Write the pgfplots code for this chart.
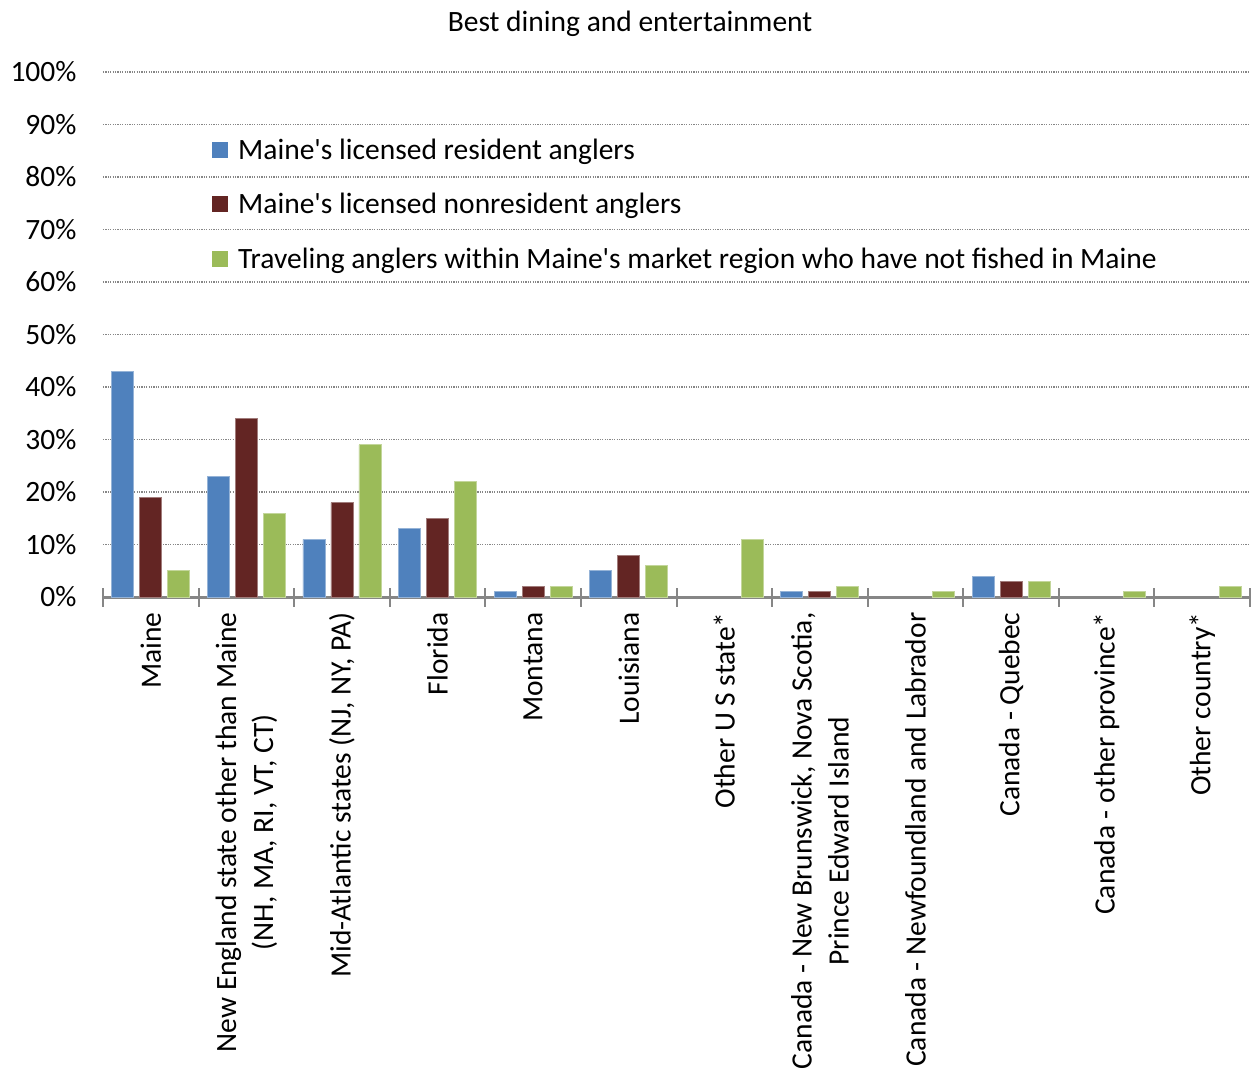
\documentclass[border=0pt]{standalone}
\usepackage{fontspec}
\setmainfont{Carlito}
\usepackage{pgfplots}
\pgfplotsset{compat=1.18}
\definecolor{sblue}{HTML}{4F81BD}
\definecolor{sred}{HTML}{632523}
\definecolor{sgreen}{HTML}{9BBB59}
\definecolor{axgray}{HTML}{868686}
\newcommand{\fs}{\fontsize{29.5}{37}\selectfont}
\begin{document}
\begin{tikzpicture}
\begin{axis}[
  name=ax,
  scale only axis,
  width=1147pt, height=525pt,
  xmin=-0.5, xmax=11.5,
  ymin=0, ymax=100,
  ybar=6pt, bar width=22pt,
  y filter/.expression={y==0 ? nan : y},
  ytick={0,10,...,100},
  yticklabel={\pgfmathprintnumber{\tick}\%},
  /pgf/number format/assume math mode=true,
  yticklabel style={font=\fs, xshift=-23pt},
  ymajorgrids,
  grid style={axgray, line width=1.2pt, dash pattern=on 1.2pt off 1.2pt},
  major tick length=0pt,
  xtick={0,...,11},
  xticklabels={Maine,
    {New England state other than Maine\\(NH, MA, RI, VT, CT)},
    {Mid-Atlantic states (NJ, NY, PA)},
    Florida, Montana, Louisiana, {Other U S state*},
    {Canada - New Brunswick, Nova Scotia,\\Prince Edward Island},
    {Canada - Newfoundland and Labrador},
    {Canada - Quebec}, {Canada - other province*}, {Other country*}},
  xticklabel style={rotate=90, anchor=east, align=center,
    font=\fs, xshift=-12pt},
  extra x ticks={-0.5,0.5,...,11.5},
  extra x tick labels={},
  extra x tick style={major tick length=19pt, tick align=center,
    tick style={axgray, line width=2pt}, grid=none},
  axis x line*=bottom,
  axis y line*=left,
  y axis line style={draw=none},
  x axis line style={axgray, line width=3pt, -},
  legend image code/.code={\path[draw=none, fill=none] (0pt,0pt) -- (24pt,0pt);
    \fill[#1, draw=none] (0pt,-8pt) rectangle (16pt,8pt);},
  legend style={draw=none, fill=none, at={(0.095,0.877)}, anchor=north west,
    font=\fs, row sep=28.5pt, inner sep=0pt},
  legend cell align=left,
  title={Best dining and entertainment},
  title style={font=\fs, at={(0.4595,1)}, anchor=south, yshift=26pt},
]
\addplot[fill=sblue, draw=sblue!60!white, line width=0.8pt] coordinates {
(0,43) (1,23) (2,11) (3,13) (4,1) (5,5) (6,0) (7,1) (8,0) (9,4) (10,0) (11,0)};
\addplot[fill=sred, draw=sred!60!white, line width=0.8pt] coordinates {
(0,19) (1,34) (2,18) (3,15) (4,2) (5,8) (6,0) (7,1) (8,0) (9,3) (10,0) (11,0)};
\addplot[fill=sgreen, draw=sgreen!60!white, line width=0.8pt] coordinates {
(0,5) (1,16) (2,29) (3,22) (4,2) (5,6) (6,11) (7,2) (8,1) (9,3) (10,1) (11,2)};
\legend{Maine\textquotesingle s licensed resident anglers, Maine\textquotesingle s licensed nonresident anglers,
  Traveling anglers within Maine\textquotesingle s market region who have not fished in Maine}
\end{axis}
\pgfresetboundingbox
\path[use as bounding box] ([shift={(-103pt,-478pt)}]ax.south west) rectangle ([shift={(1pt,72pt)}]ax.north east);
\end{tikzpicture}
\end{document}
